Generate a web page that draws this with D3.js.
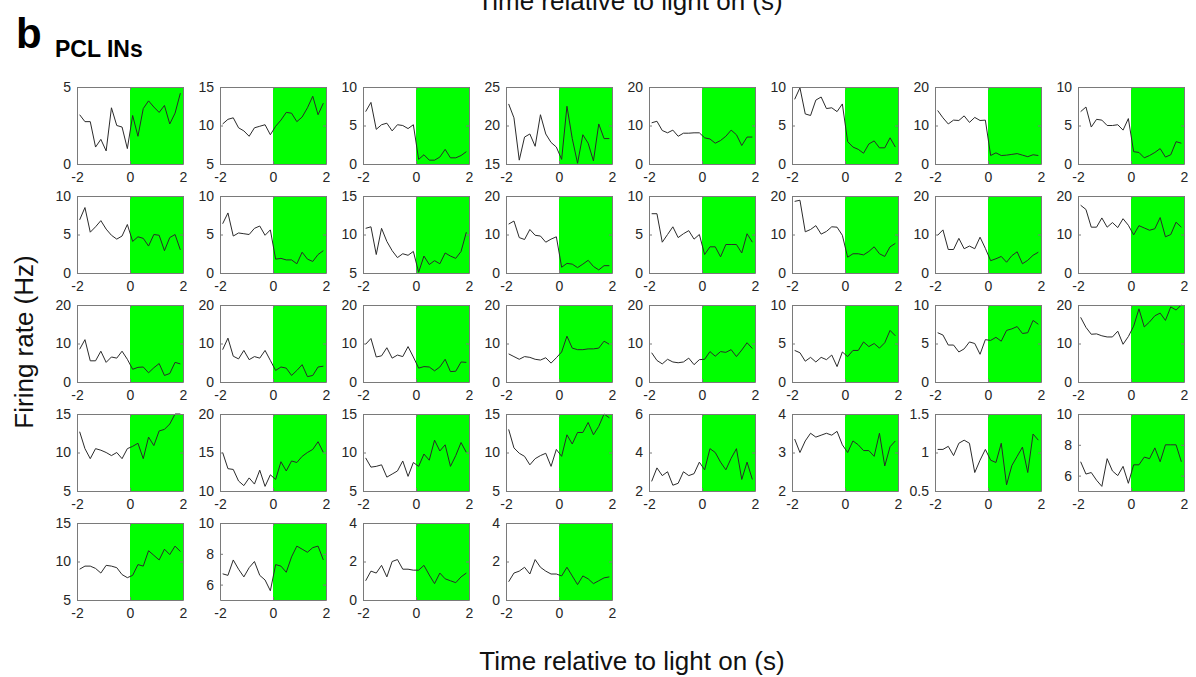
<!DOCTYPE html>
<html>
<head>
<meta charset="utf-8">
<script src="https://cdn.jsdelivr.net/npm/d3@7"></script>
<style>
  body { margin: 0; background: #fff; }
  svg { display: block; font-family: "Liberation Sans", Arial, sans-serif; }
</style>
</head>
<body>
<div id="chart"></div>
<script>
// bin centres (s) relative to light on
var times = [-1.9, -1.7, -1.5, -1.3, -1.1, -0.9, -0.7, -0.5, -0.3, -0.1,
             0.1, 0.3, 0.5, 0.7, 0.9, 1.1, 1.3, 1.5, 1.7, 1.9];

var xTicks = [-2, 0, 2];
var lightOn = [0, 2];

// y limits for each cell
var ylims = [
  [0, 5], [5, 15], [0, 10], [15, 25], [0, 20], [0, 10], [0, 20], [0, 10],
  [0, 10], [0, 10], [5, 15], [0, 20], [0, 10], [0, 20], [0, 20], [0, 20],
  [0, 20], [0, 20], [0, 20], [0, 20], [0, 20], [0, 10], [0, 10], [0, 20],
  [5, 15], [10, 20], [5, 15], [5, 15], [2, 6], [2, 4], [0.5, 1.5], [5, 10],
  [5, 15], [5, 10], [0, 4], [0, 4]
];

var yticks = [
  [0, 5], [5, 10, 15], [0, 5, 10], [15, 20, 25], [0, 10, 20], [0, 5, 10], [0, 10, 20], [0, 5, 10],
  [0, 5, 10], [0, 5, 10], [5, 10, 15], [0, 10, 20], [0, 5, 10], [0, 10, 20], [0, 10, 20], [0, 10, 20],
  [0, 10, 20], [0, 10, 20], [0, 10, 20], [0, 10, 20], [0, 10, 20], [0, 5, 10], [0, 5, 10], [0, 10, 20],
  [5, 10, 15], [10, 15, 20], [5, 10, 15], [5, 10, 15], [2, 4, 6], [2, 3, 4], [0.5, 1, 1.5], [6, 8, 10],
  [5, 10, 15], [6, 8, 10], [0, 2, 4], [0, 2, 4]
];

// firing rate (Hz) per cell
var rates = [
  [3.2, 2.75, 2.75, 1.1, 1.6, 0.85, 3.65, 2.5, 2.4, 1.0, 3.15, 1.8, 3.6, 4.1, 3.7, 3.35, 3.8, 2.6, 3.3, 4.6],
  [10.2, 10.8, 11.0, 9.7, 9.3, 8.6, 9.7, 9.9, 10.1, 8.8, 9.9, 10.7, 11.7, 11.6, 10.5, 11.1, 12.3, 13.8, 11.4, 12.9],
  [6.8, 8.0, 4.5, 5.1, 5.3, 4.3, 5.1, 5.0, 4.6, 5.1, 0.6, 1.2, 0.5, 0.5, 0.9, 1.9, 0.8, 0.8, 1.1, 1.6],
  [22.8, 21.0, 15.5, 18.5, 18.9, 17.3, 21.4, 18.9, 17.8, 17.2, 15.6, 22.5, 18.3, 15.1, 18.8, 17.7, 15.4, 20.2, 18.3, 18.3],
  [10.7, 11.1, 8.7, 8.1, 8.8, 7.2, 8.0, 8.0, 8.1, 8.1, 6.8, 6.5, 5.4, 6.1, 7.2, 8.8, 7.6, 4.8, 7.0, 7.0],
  [8.4, 9.9, 6.5, 6.3, 8.3, 8.7, 7.2, 7.3, 6.8, 7.8, 2.9, 2.2, 1.9, 1.4, 2.6, 3.0, 2.1, 2.1, 3.4, 2.2],
  [13.9, 12.0, 10.4, 11.4, 11.3, 12.5, 10.8, 12.1, 11.3, 11.4, 2.2, 2.9, 2.2, 2.3, 2.5, 2.7, 2.3, 1.9, 2.4, 2.2],
  [6.8, 7.4, 4.8, 5.8, 5.7, 5.0, 5.0, 5.1, 4.4, 5.9, 1.6, 1.5, 0.8, 1.1, 1.5, 2.0, 0.9, 1.2, 2.9, 2.7],

  [6.9, 8.5, 5.3, 6.0, 6.8, 5.7, 4.9, 4.4, 4.8, 6.3, 4.1, 4.7, 4.5, 3.5, 5.0, 4.9, 2.9, 4.6, 5.0, 3.0],
  [6.4, 7.8, 4.8, 5.2, 5.1, 5.0, 5.8, 6.1, 4.9, 5.6, 1.8, 1.9, 1.7, 1.7, 1.2, 2.7, 1.8, 1.5, 2.4, 2.9],
  [10.8, 11.0, 7.4, 10.8, 9.1, 7.9, 7.0, 7.5, 7.3, 7.8, 5.1, 7.2, 6.1, 6.6, 6.2, 7.6, 7.2, 6.9, 7.8, 10.3],
  [12.7, 13.5, 9.2, 8.7, 11.3, 9.8, 9.6, 8.0, 8.8, 9.4, 1.5, 2.5, 2.3, 1.4, 2.3, 3.3, 1.7, 0.8, 1.9, 1.9],
  [7.7, 7.7, 4.0, 5.0, 6.0, 4.6, 5.1, 5.5, 4.4, 5.0, 2.4, 3.4, 3.4, 2.1, 3.7, 3.7, 3.7, 2.6, 5.1, 4.0],
  [18.6, 18.9, 10.7, 11.3, 12.3, 10.1, 10.8, 12.0, 11.9, 9.8, 4.1, 5.0, 5.0, 4.7, 5.6, 6.8, 5.0, 4.3, 6.8, 7.7],
  [9.8, 11.2, 6.1, 6.1, 9.0, 6.3, 7.0, 6.3, 9.3, 6.4, 3.2, 3.7, 4.3, 2.8, 4.5, 5.5, 2.4, 3.3, 4.6, 5.4],
  [17.6, 16.5, 11.9, 11.9, 14.3, 11.9, 13.1, 11.8, 14.1, 12.4, 9.9, 12.3, 11.7, 11.1, 11.5, 14.4, 9.4, 10.0, 13.2, 11.9],

  [8.5, 11.0, 5.5, 5.5, 8.0, 5.1, 6.5, 6.2, 8.0, 5.9, 3.3, 3.8, 3.9, 2.4, 3.7, 4.8, 1.7, 2.2, 5.1, 4.7],
  [8.4, 11.4, 6.7, 6.0, 8.2, 5.8, 6.6, 6.2, 8.2, 5.6, 3.0, 3.9, 3.6, 1.7, 3.0, 4.5, 1.4, 1.7, 3.9, 4.1],
  [9.8, 11.3, 6.5, 6.8, 8.9, 6.2, 7.0, 6.6, 9.2, 6.5, 3.6, 4.0, 3.9, 2.9, 3.9, 5.9, 2.7, 2.8, 5.2, 5.1],
  [7.3, 6.6, 5.9, 6.6, 6.4, 5.9, 5.7, 6.3, 4.9, 6.3, 7.8, 11.9, 8.8, 8.4, 8.4, 8.6, 8.6, 8.8, 10.6, 9.8],
  [7.6, 5.6, 4.7, 5.9, 5.2, 5.0, 5.2, 6.2, 4.5, 5.8, 5.9, 7.9, 6.7, 7.9, 7.7, 8.4, 6.6, 8.3, 10.2, 8.7],
  [4.1, 3.8, 2.7, 3.2, 2.6, 3.2, 2.9, 3.5, 2.0, 3.9, 3.3, 4.1, 4.1, 5.2, 4.6, 5.0, 4.4, 5.1, 6.7, 6.0],
  [6.4, 6.1, 4.8, 4.8, 3.9, 4.3, 5.2, 5.0, 3.6, 5.5, 5.4, 5.8, 5.3, 6.7, 6.9, 7.2, 6.3, 6.4, 8.0, 7.5],
  [16.8, 14.2, 12.4, 12.5, 12.0, 11.7, 11.7, 13.2, 9.8, 11.8, 14.5, 19.0, 14.3, 15.6, 17.2, 17.9, 16.0, 19.5, 18.7, 20.0],

  [12.7, 10.5, 9.2, 10.5, 10.3, 10.0, 9.6, 10.0, 9.2, 10.5, 10.8, 11.2, 9.2, 12.0, 10.9, 12.8, 13.0, 13.7, 15.0, 15.0],
  [15.0, 12.9, 12.8, 11.3, 10.7, 11.7, 10.9, 12.7, 10.6, 12.1, 11.5, 13.8, 12.6, 13.9, 13.7, 14.5, 15.0, 15.4, 16.4, 15.0],
  [9.3, 8.1, 8.2, 8.4, 6.8, 7.2, 7.6, 8.9, 6.9, 8.7, 8.2, 9.8, 9.0, 11.6, 10.2, 11.0, 8.2, 9.6, 11.3, 10.0],
  [13.0, 10.6, 9.9, 9.5, 8.4, 9.2, 9.6, 9.9, 8.2, 10.4, 9.5, 12.3, 11.1, 12.6, 12.6, 13.9, 12.3, 13.4, 15.0, 14.5],
  [2.5, 3.2, 2.8, 3.0, 2.3, 2.4, 3.0, 2.8, 2.9, 3.5, 3.1, 4.2, 4.0, 3.5, 3.1, 3.7, 4.2, 2.6, 3.5, 2.6],
  [3.35, 3.0, 3.3, 3.5, 3.4, 3.45, 3.5, 3.45, 3.55, 3.2, 3.0, 3.3, 3.2, 3.05, 3.05, 2.9, 3.5, 2.65, 3.15, 3.3],
  [1.04, 1.04, 1.08, 0.96, 1.12, 1.16, 1.12, 0.74, 0.9, 1.04, 0.9, 0.87, 1.12, 0.58, 0.83, 0.95, 1.07, 0.74, 1.24, 1.16],
  [6.9, 6.1, 6.2, 5.7, 5.3, 7.1, 6.3, 6.0, 6.6, 5.5, 6.7, 6.7, 7.2, 7.1, 7.8, 6.9, 8.0, 8.0, 8.0, 6.9],

  [9.0, 9.4, 9.4, 9.1, 8.5, 9.5, 9.4, 9.2, 8.3, 7.9, 8.2, 9.6, 9.4, 11.4, 10.8, 10.2, 11.6, 10.9, 12.0, 11.3],
  [6.7, 6.6, 7.6, 7.0, 6.5, 7.1, 7.5, 6.6, 6.3, 5.6, 7.3, 7.2, 6.8, 7.8, 8.5, 8.3, 8.1, 8.4, 8.5, 7.6],
  [1.0, 1.5, 1.4, 1.8, 1.2, 2.0, 2.1, 1.6, 1.6, 1.55, 1.55, 1.8, 1.3, 0.85, 1.4, 1.1, 1.0, 0.9, 1.2, 1.4],
  [0.95, 1.4, 1.5, 1.7, 1.35, 2.1, 1.7, 1.5, 1.35, 1.35, 1.25, 1.7, 1.25, 0.8, 1.25, 1.1, 0.85, 1.0, 1.15, 1.2]
];

// layout
var svgWidth = 1196, svgHeight = 677;
var ncols = 8;
var left0 = 77, colStep = 143, pw = 106;
var top0 = 87, rowStep = 109, ph = 77;
var axisColor = '#7a7a7a', textColor = '#262626';

var svg = d3.select('#chart').append('svg')
    .attr('width', svgWidth)
    .attr('height', svgHeight);

// cut-off label from the panel above
svg.append('text')
    .attr('x', 630).attr('y', 10)
    .attr('text-anchor', 'middle')
    .attr('font-size', 26)
    .attr('fill', '#111')
    .text('Time relative to light on (s)');

svg.append('text')
    .attr('x', 16).attr('y', 48)
    .attr('font-size', 42).attr('font-weight', 'bold')
    .attr('fill', '#000')
    .text('b');

svg.append('text')
    .attr('x', 55).attr('y', 57)
    .attr('font-size', 23).attr('font-weight', 'bold')
    .attr('fill', '#000')
    .text('PCL INs');

var xscale = d3.scaleLinear().domain([-2, 2]).range([0, pw]);
var fmt = function (d) { return String(d); };

rates.forEach(function (vals, i) {
    var col = i % ncols, row = Math.floor(i / ncols);
    var g = svg.append('g')
        .attr('transform', `translate(${left0 + col * colStep}, ${top0 + row * rowStep})`);

    var yscale = d3.scaleLinear().domain(ylims[i]).range([ph, 0]);

    // light-on shading
    g.append('rect')
        .attr('x', xscale(lightOn[0]))
        .attr('y', 0)
        .attr('width', xscale(lightOn[1]) - xscale(lightOn[0]))
        .attr('height', ph)
        .attr('fill', '#00ff00');

    var line = d3.line()
        .x(function (d, j) { return xscale(times[j]); })
        .y(function (d) { return yscale(d); });

    g.append('path')
        .datum(vals)
        .attr('d', line)
        .attr('fill', 'none')
        .attr('stroke', '#2b2b2b')
        .attr('stroke-width', 1);

    // axes: bottom / left with labels, top / right ticks only
    var bottomaxis = d3.axisBottom(xscale).tickValues(xTicks).tickSizeInner(-3).tickSizeOuter(0)
        .tickPadding(8).tickFormat(fmt);
    var topaxis = d3.axisTop(xscale).tickValues(xTicks).tickSizeInner(-3).tickSizeOuter(0).tickFormat('');
    var leftaxis = d3.axisLeft(yscale).tickValues(yticks[i]).tickSizeInner(-3).tickSizeOuter(0)
        .tickPadding(6).tickFormat(fmt);
    var rightaxis = d3.axisRight(yscale).tickValues(yticks[i]).tickSizeInner(-3).tickSizeOuter(0).tickFormat('');

    var axes = [
        g.append('g').attr('transform', `translate(0, ${ph})`).call(bottomaxis),
        g.append('g').call(topaxis),
        g.append('g').call(leftaxis),
        g.append('g').attr('transform', `translate(${pw}, 0)`).call(rightaxis)
    ];
    axes.forEach(function (a) {
        a.select('.domain').attr('stroke', axisColor);
        a.selectAll('line').attr('stroke', axisColor);
        a.selectAll('text')
            .attr('fill', textColor)
            .attr('font-size', 14)
            .attr('font-family', '"Liberation Sans", Arial, sans-serif');
    });
});

svg.append('text')
    .attr('transform', 'translate(33, 342) rotate(-90)')
    .attr('text-anchor', 'middle')
    .attr('font-size', 26)
    .attr('fill', '#111')
    .text('Firing rate (Hz)');

svg.append('text')
    .attr('x', 632).attr('y', 670)
    .attr('text-anchor', 'middle')
    .attr('font-size', 26)
    .attr('fill', '#111')
    .text('Time relative to light on (s)');
</script>
</body>
</html>
